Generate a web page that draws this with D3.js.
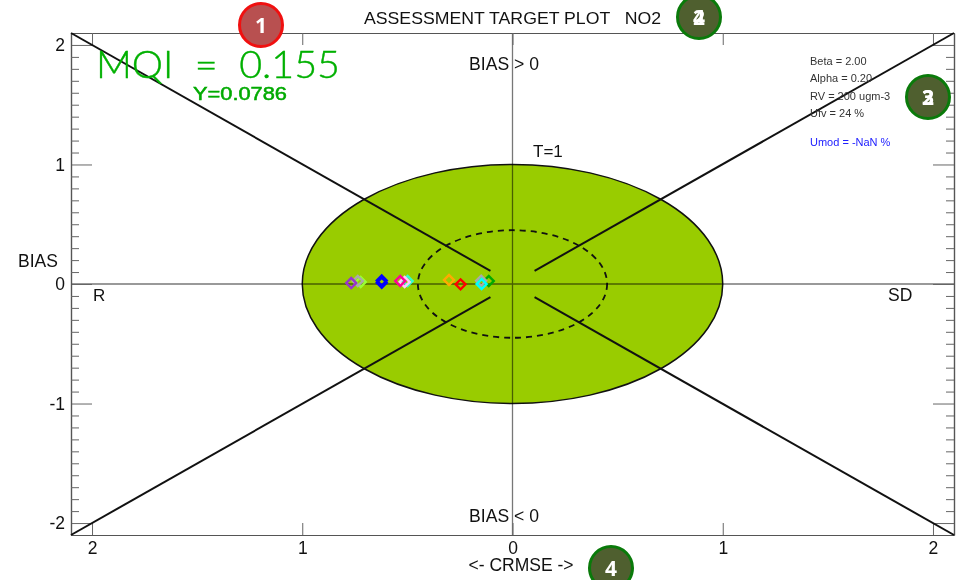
<!DOCTYPE html>
<html><head><meta charset="utf-8">
<script src="https://cdn.jsdelivr.net/npm/d3@7/dist/d3.min.js"></script>
<style>
html,body{margin:0;padding:0;background:#fff}
svg{display:block}
text{font-family:"Liberation Sans",Arial,sans-serif;fill:#111}
</style></head><body><svg id="c" width="961" height="580"></svg>
<script>
const title = "ASSESSMENT TARGET PLOT   NO2";
const xLabel = "<- CRMSE ->";
const yLabel = "BIAS";
const majorTicks = [-2, -1, 0, 1, 2];
const targetRadii = [1, 0.45];
const pointX = [-0.722,-0.736,-0.767,-0.622,-0.622,-0.499,-0.513,-0.534,-0.302,-0.247,-0.113,-0.149,-0.147];
const pointY = [0.017,0.025,0.008,0.03,0.01,0.025,0.017,0.025,0.033,-0.003,0.025,0.028,0];
const pointColors = ["#99ff33","#aaaaaa","#9933cc","#0000ff","#0000ff","#33ffcc","#ffccff","#ff0099","#ffaa00","#ff0000","#00aa00","#aaaaaa","#00ffff"];
const diagOuter = 2.1;
const diagInnerX = 0.105;
const diagInnerY = 0.11;
const paramLines = ["Beta = 2.00","Alpha = 0.20","RV = 200 ugm-3","Ufv = 24 %"];
const umodText = "Umod = -NaN %";
const mqiText = "MQI  =  0.155";
const yText = "Y=0.0786";
const axisNotes = ["BIAS > 0","BIAS < 0","T=1","R","SD"];

const svg = d3.select("#c");
const x = d3.scaleLinear().domain([-2.1,2.1]).range([71,954]);
const y = d3.scaleLinear().domain([-2.1,2.1]).range([535,33]);
const xPx0 = x(0), yPx0 = y(0);

// Target ellipses
svg.append("ellipse").attr("cx",xPx0).attr("cy",yPx0)
  .attr("rx",x(targetRadii[0])-xPx0).attr("ry",yPx0-y(targetRadii[0]))
  .attr("fill","#99cc00").attr("stroke","#111").attr("stroke-width",1.5);
svg.append("ellipse").attr("cx",xPx0).attr("cy",yPx0)
  .attr("rx",x(targetRadii[1])-xPx0).attr("ry",yPx0-y(targetRadii[1]))
  .attr("fill","none").attr("stroke","#111").attr("stroke-width",1.8).attr("stroke-dasharray","6 5");

// Centre axes
const cross = svg.append("g").style("mix-blend-mode","multiply").attr("stroke","#777").attr("stroke-width",1.3);
cross.append("line").attr("x1",71).attr("x2",954).attr("y1",yPx0).attr("y2",yPx0);
cross.append("line").attr("x1",xPx0).attr("x2",xPx0).attr("y1",33).attr("y2",535);

// Frame and ticks
const minor = d3.range(-21,22).map(d=>d/10).filter(d=>Math.abs(d)<2.1 && !majorTicks.includes(d));
function styleAxis(g){ g.selectAll("path").attr("stroke","#555").attr("stroke-width",1.2);
  g.selectAll("line").attr("stroke","#666");
  g.selectAll("text").style("font-size","17.5px").attr("fill","#111").style("font-family","Liberation Sans"); }
const noText = a=>a.tickFormat("");
const mjx = 12, mjy = 21, mn = 8;
svg.append("g").attr("transform","translate(0,535)")
  .call(d3.axisBottom(x).tickValues(majorTicks).tickSizeInner(-mjx).tickSizeOuter(0).tickFormat(d=>Math.abs(d)).tickPadding(6.5)).call(styleAxis);
svg.append("g").attr("transform","translate(0,33)")
  .call(noText(d3.axisTop(x).tickValues(majorTicks).tickSizeInner(-mjx).tickSizeOuter(0))).call(styleAxis);
svg.append("g").attr("transform","translate(71,0)")
  .call(d3.axisLeft(y).tickValues(majorTicks).tickSizeInner(-mjy).tickSizeOuter(0).tickFormat(d=>d).tickPadding(6)).call(styleAxis);
svg.append("g").attr("transform","translate(954,0)")
  .call(noText(d3.axisRight(y).tickValues(majorTicks).tickSizeInner(-mjy).tickSizeOuter(0))).call(styleAxis);
svg.append("g").attr("transform","translate(71,0)")
  .call(noText(d3.axisLeft(y).tickValues(minor).tickSizeInner(-mn).tickSizeOuter(0))).call(styleAxis);
svg.append("g").attr("transform","translate(954,0)")
  .call(noText(d3.axisRight(y).tickValues(minor).tickSizeInner(-mn).tickSizeOuter(0))).call(styleAxis);

// Diagonals
[[-1,1],[1,1],[-1,-1],[1,-1]].forEach(([sx,sy])=>{
  svg.append("line").attr("x1",x(sx*diagOuter)).attr("y1",y(sy*diagOuter))
    .attr("x2",x(sx*diagInnerX)).attr("y2",y(sy*diagInnerY))
    .attr("stroke","#111").attr("stroke-width",2);
});

// Points
const diamond = d3.symbol().type(d3.symbolSquare).size(50);
svg.append("g").selectAll("path").data(pointX.map((v,i)=>i)).join("path")
  .attr("d",diamond())
  .attr("transform",i=>`translate(${x(pointX[i])},${y(pointY[i])}) rotate(45)`)
  .attr("fill","none").attr("stroke",i=>pointColors[i]).attr("stroke-width",2.4);

// Text
const t=(s,px,py,size,opts={})=>{
  const e=svg.append("text").attr("x",px).attr("y",py).style("font-size",size+"px")
    .attr("xml:space","preserve").style("white-space","pre").text(s);
  if(opts.fill) e.style("fill",opts.fill);
  if(opts.anchor) e.attr("text-anchor",opts.anchor);
  if(opts.len) e.attr("textLength",opts.len).attr("lengthAdjust","spacingAndGlyphs");
  if(opts.weight) e.style("font-weight",opts.weight);
  return e;
};
t(title,364,24,17,{len:297});
t(axisNotes[0],469,70,17.5,{len:70});
t(axisNotes[1],469,522,17.5,{len:70});
t(axisNotes[2],533,157,17);
t(axisNotes[3],93,301,17);
t(axisNotes[4],888,301,17.5);
t(yLabel,18,267,17.5);
t(xLabel,521,571,17.5,{anchor:"middle"});
t(mqiText,96,78,38,{fill:"#00b000",len:244}).style("font-family","Lato,'Liberation Sans'").style("font-weight",300).style("stroke","#00b000").style("stroke-width",0.4);
t(yText,193,100,18,{fill:"#00aa00",len:94}).style("stroke","#00aa00").style("stroke-width",0.5);
paramLines.forEach((s,i)=>t(s,810,65+i*17.3,11,{fill:"#333"}));
t(umodText,810,146,11,{fill:"#2020ff"});

// Annotation badges
const badge=(cx,cy,fill,stroke,digits)=>{
  svg.append("circle").attr("cx",cx).attr("cy",cy).attr("r",21.5)
    .attr("fill",fill).attr("stroke",stroke).attr("stroke-width",3);
  digits.forEach(d=>svg.append("text").attr("x",cx).attr("y",cy+7.5).attr("text-anchor","middle")
    .style("font-family","'Open Sans'").style("font-weight",700).style("font-size","21px").style("fill","#fff").text(d));
};
badge(261,25,"#b85050","#f01010",["1"]);
badge(699,17,"#4f5f2f","#0a7a0a",["2","4"]);
badge(928,97,"#4f5f2f","#0a7a0a",["2","3"]);
badge(611,568,"#4f5f2f","#0a7a0a",["4"]);
</script></body></html>
